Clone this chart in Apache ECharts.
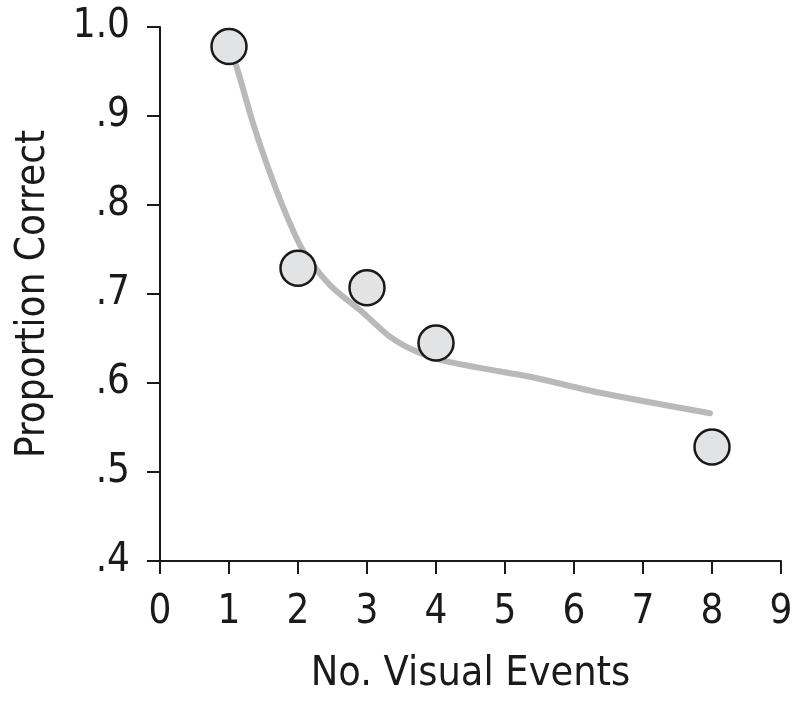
<!DOCTYPE html>
<html>
<head>
<meta charset="utf-8">
<style>
html,body{margin:0;padding:0;background:#fff;}
#chart{width:800px;height:703px;}
</style>
<script src="https://cdn.jsdelivr.net/npm/echarts@6/dist/echarts.min.js"></script>
</head>
<body>
<div id="chart"></div>
<script>
// Observed data
const eventCounts = [1, 2, 3, 4, 8];
const proportionCorrect = [0.978, 0.729, 0.707, 0.645, 0.528];

// Fitted curve
const fitX = [1.0, 1.087, 1.348, 1.594, 1.841, 2.072, 2.464, 2.942, 3.333, 3.667, 4.058, 4.638, 5.362, 6.377, 7.971];
const fitY = [0.975, 0.961, 0.892, 0.836, 0.787, 0.749, 0.710, 0.679, 0.652, 0.637, 0.626, 0.617, 0.607, 0.589, 0.566];

const xTicks = [0, 1, 2, 3, 4, 5, 6, 7, 8, 9];
const yTickLabels = {'0.4': '.4', '0.5': '.5', '0.6': '.6', '0.7': '.7', '0.8': '.8', '0.9': '.9', '1': '1.0'};

const FONT = "'Liberation Sans Narrow', 'DejaVu Sans Condensed', 'Liberation Sans', sans-serif";
const chart = echarts.init(document.getElementById('chart'));
chart.setOption({
  animation: false,
  backgroundColor: '#ffffff',
  grid: {left: 160, right: 19, top: 27, bottom: 142, containLabel: false, outerBoundsMode: 'none'},
  xAxis: {
    type: 'value', min: xTicks[0], max: xTicks[xTicks.length - 1], interval: 1,
    name: 'No. Visual Events', nameLocation: 'middle', nameGap: 93,
    nameTextStyle: {fontFamily: FONT, fontSize: 41, color: '#1a1a1a'},
    axisLine: {show: true, lineStyle: {color: '#1a1a1a', width: 2}},
    axisTick: {show: true, inside: false, length: 13, lineStyle: {color: '#1a1a1a', width: 2}},
    axisLabel: {fontFamily: FONT, fontSize: 40, color: '#1a1a1a', margin: 32},
    splitLine: {show: false}
  },
  yAxis: {
    type: 'value', min: 0.4, max: 1.0, interval: 0.1,
    name: 'Proportion Correct', nameLocation: 'middle', nameGap: 106,
    nameTextStyle: {fontFamily: FONT, fontSize: 40, color: '#1a1a1a'},
    axisLine: {show: true, lineStyle: {color: '#1a1a1a', width: 2}},
    axisTick: {show: true, inside: false, length: 13, lineStyle: {color: '#1a1a1a', width: 2}},
    axisLabel: {
      fontFamily: FONT, fontSize: 40, color: '#1a1a1a', margin: 30,
      formatter: function (v) { const k = String(Math.round(v * 10) / 10); return yTickLabels[k] || k; }
    },
    splitLine: {show: false}
  },
  series: [
    {
      type: 'line', z: 1, smooth: 0.3, symbol: 'none',
      data: fitX.map((x, i) => [x, fitY[i]]),
      lineStyle: {color: '#b9b9b9', width: 6, cap: 'round', join: 'round'}
    },
    {
      type: 'scatter', z: 3, symbol: 'circle', symbolSize: 35,
      data: eventCounts.map((x, i) => [x, proportionCorrect[i]]),
      itemStyle: {color: '#e2e3e5', borderColor: '#1a1a1a', borderWidth: 2.5, opacity: 1}
    }
  ]
});
</script>
</body>
</html>
